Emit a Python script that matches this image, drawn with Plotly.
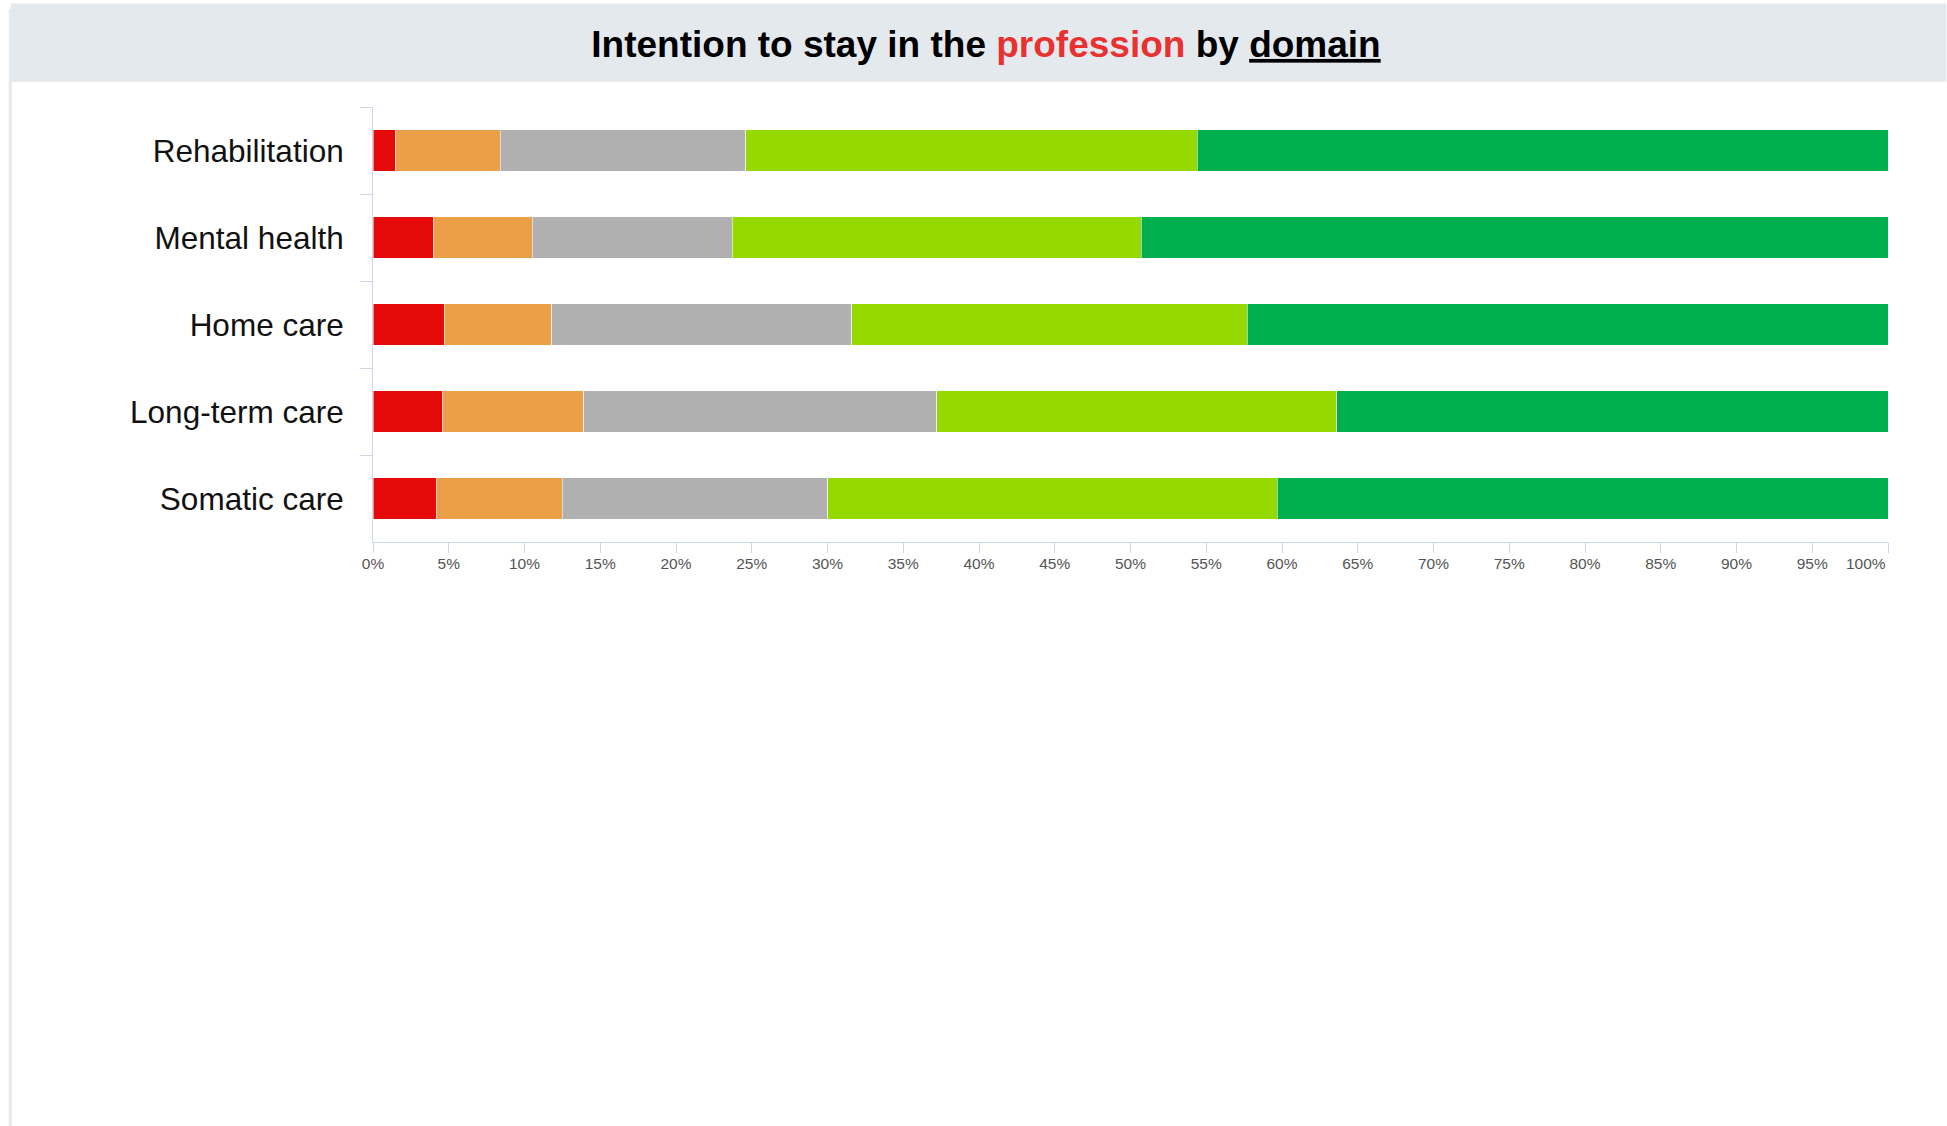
import plotly.graph_objects as go

# Share of respondents per answer, stacked to 100% for each care domain
domains = ["Rehabilitation", "Mental health", "Home care", "Long-term care", "Somatic care"]
answers = ["Definitely not", "Probably not", "Neutral", "Probably yes", "Definitely yes"]
definitely_not = [1.5, 4.0, 4.7, 4.6, 4.2]
probably_not = [6.9, 6.5, 7.1, 9.3, 8.3]
neutral = [16.2, 13.2, 19.8, 23.3, 17.5]
probably_yes = [29.8, 27.0, 26.1, 26.4, 29.7]
definitely_yes = [45.6, 49.3, 42.3, 36.4, 40.3]
x_ticks = list(range(0, 101, 5))
x_tick_labels = [f"{v}%" for v in x_ticks]

series = [definitely_not, probably_not, neutral, probably_yes, definitely_yes]
colors = ["#e50a0a", "#eb9f47", "#b0b0b0", "#95d900", "#00af4e"]

W, H = 1947, 1126
ML, MR, MT, MB = 372.5, 58.5, 107.3, 584.3
PW, PH = W - ML - MR, H - MT - MB


def px_x(px):
    return (px - ML) / PW


def px_y(py):
    return (H - MB - py) / PH


fig = go.Figure()
for name, vals, col in zip(answers, series, colors):
    fig.add_trace(go.Bar(
        y=domains, x=vals, name=name, orientation="h",
        marker=dict(color=col, line=dict(color="rgba(255,255,255,0.55)", width=1)),
        hovertemplate="%{y}<br>" + name + ": %{x:.1f}%<extra></extra>",
    ))

axis_col = "#ccd6eb"
tick_font = dict(family="Arial, Liberation Sans, sans-serif", size=15.5, color="#555555")

# the last tick label is kept inside the plot edge (right-aligned to its tick)
shown_tick_text = x_tick_labels[:-1] + [""]

# header band and frame edge
shapes = [
    dict(type="rect", xref="paper", yref="paper",
         x0=px_x(10), x1=px_x(W), y0=px_y(82), y1=px_y(4),
         fillcolor="#e4e9ed", line=dict(width=0), layer="below"),
    dict(type="line", xref="paper", yref="paper",
         x0=px_x(9.5), x1=px_x(9.5), y0=px_y(10), y1=px_y(H),
         line=dict(color="#e4e9ed", width=3)),
]

annotations = [
    dict(x=x_ticks[-1], xref="x", xanchor="right", y=0, yref="paper", yanchor="top",
         yshift=-10.5, text=x_tick_labels[-1], showarrow=False, font=tick_font),
]

fig.update_layout(
    width=W, height=H,
    barmode="stack", bargap=0.52,
    showlegend=False,
    paper_bgcolor="white", plot_bgcolor="white",
    margin=dict(l=ML, r=MR, t=MT, b=MB, pad=0),
    shapes=shapes,
    annotations=annotations,
    title=dict(
        text="<b>Intention to stay in the <span style='color:#e83232'>profession</span> by "
             "<span style='text-decoration:underline'>domain</span></b>",
        x=986 / W, xanchor="center", xref="container",
        y=1 - 44 / H, yanchor="middle", yref="container",
        font=dict(family="Arial, Liberation Sans, sans-serif", size=37, color="#000000"),
    ),
    xaxis=dict(
        range=[0, 100], tickmode="array", tickvals=x_ticks, ticktext=shown_tick_text,
        showgrid=False, zeroline=False,
        showline=True, linecolor=axis_col, linewidth=1,
        ticks="outside", ticklen=10, tickcolor=axis_col, tickwidth=1,
        ticklabelstandoff=-3,
        tickfont=tick_font,
        fixedrange=True,
    ),
    yaxis=dict(
        categoryorder="array", categoryarray=domains, autorange="reversed",
        showgrid=False, zeroline=False,
        showline=True, linecolor=axis_col, linewidth=1,
        ticks="outside", ticklen=12, tickcolor=axis_col, tickwidth=1,
        tickson="boundaries", ticklabelstandoff=22,
        tickfont=dict(family="Arial, Liberation Sans, sans-serif", size=31.5, color="#111111"),
        fixedrange=True,
    ),
)

fig.write_html("out.html")
